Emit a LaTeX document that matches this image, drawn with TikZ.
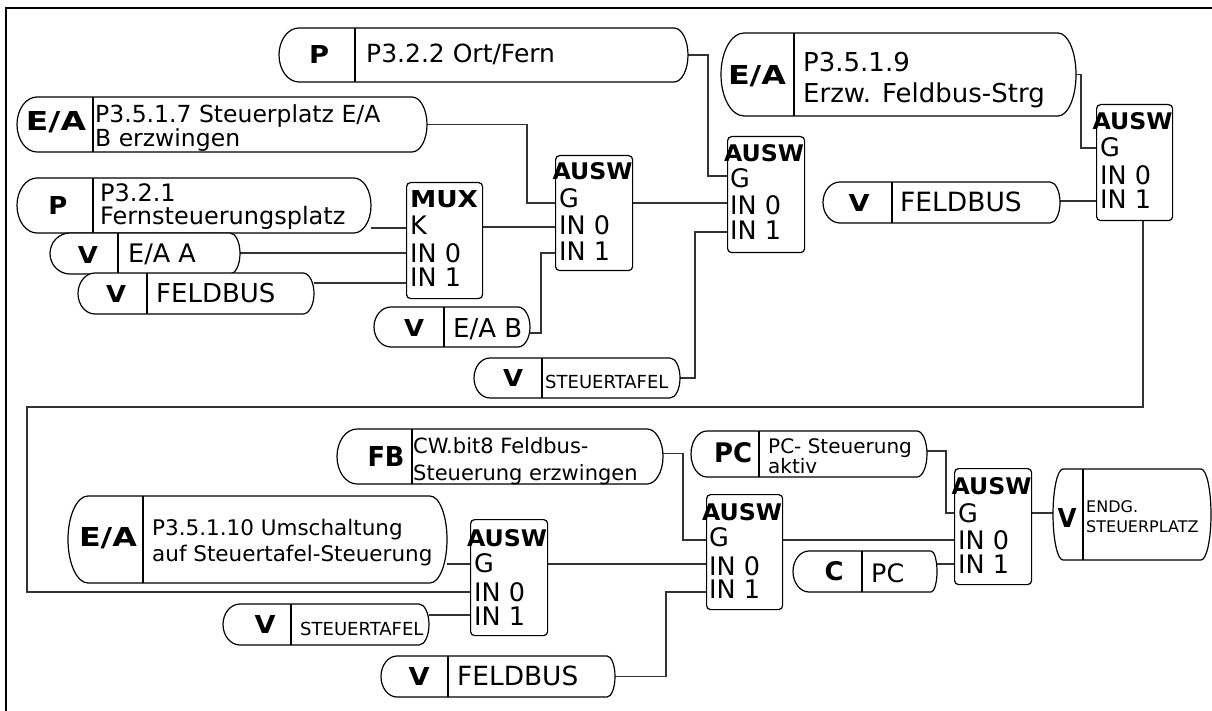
\documentclass[tikz,border=0pt]{standalone}
\usepackage{fontspec}
\setmainfont{DejaVu Sans}
\usepackage{graphicx}
\usetikzlibrary{backgrounds}
\newcommand\twol[3]{\vtop{\baselineskip=#1pt\lineskiplimit=-100pt\lineskip=0pt\hbox{#2}\hbox{#3}}}
\newcommand\bl[3]{\resizebox{#1pt}{#2pt}{\bfseries #3}}
\newcommand\fs[1]{\fontsize{#1}{#1}\selectfont}
\tikzset{
  outl/.style={draw=black, line width=1.2pt, fill=white},
  wire/.style={draw=black!80, line width=1.3pt},
  blockst/.style={draw=black, line width=1.2pt, fill=white, rounded corners=4pt, inner sep=0pt},
  txt/.style={inner sep=0pt, anchor=base west},
  lab/.style={inner sep=0pt, anchor=base},
  hold/.style={inner sep=0pt, outer sep=0pt, anchor=north west}
}
% pill: name, x0, y0, x1, y1, xsep, rl, rr
\newcommand\pill[8]{%
  \pgfmathsetmacro\pilYm{(#3+#5)/2}%
  \pgfmathsetmacro\pilKh{0.5523*(#5-#3)/2}%
  \pgfmathsetmacro\pilAl{#2+#7}%
  \pgfmathsetmacro\pilAr{#4-#8}%
  \pgfmathsetmacro\pilKl{0.5523*#7}%
  \pgfmathsetmacro\pilKr{0.5523*#8}%
  \path[outl] (\pilAl,#3) -- (\pilAr,#3)
    .. controls (\pilAr+\pilKr,#3) and (#4,\pilYm-\pilKh) .. (#4,\pilYm)
    .. controls (#4,\pilYm+\pilKh) and (\pilAr+\pilKr,#5) .. (\pilAr,#5)
    -- (\pilAl,#5)
    .. controls (\pilAl-\pilKl,#5) and (#2,\pilYm+\pilKh) .. (#2,\pilYm)
    .. controls (#2,\pilYm-\pilKh) and (\pilAl-\pilKl,#3) .. cycle;
  \draw[line width=1.2pt] (#6,#3) -- (#6,#5);
  \node[hold, minimum width={#4-#2}, minimum height={#5-#3}] (#1) at (#2,#3) {};%
}
% block: name, x0, y0, x1, y1
\newcommand\blk[5]{%
  \node[blockst, anchor=north west, minimum width={#4-#2}, minimum height={#5-#3}] (#1) at (#2,#3) {};%
}
\begin{document}
\begin{tikzpicture}[x=1pt,y=-1pt]
\useasboundingbox (0,0) rectangle (1212,711);

% ---------- top section pills ----------
\pill{p322}{279}{28}{688}{82}{355}{20}{14}
\node[lab] at (319,64) {\bl{20}{18}{P}};
\node[txt] at (366,63) {\fs{25}P3.2.2 Ort/Fern};

\pill{p3517}{17}{97}{427}{152}{93}{20}{15}
\node[lab] at (56,131) {\bl{60}{19}{E/A}};
\node[txt] at (95,123) {\fs{23.5}\twol{24}{P3.5.1.7 Steuerplatz E/A}{B erzwingen}};

\pill{p321}{17}{178}{371}{233}{93}{20}{17}
\node[lab] at (58,215) {\bl{19}{18}{P}};
\node[txt] at (100,202) {\fs{24}\twol{23}{P3.2.1}{Fernsteuerungsplatz}};

\pill{eaa}{50}{233}{240}{274}{118}{20}{10}
\node[lab] at (88,263) {\bl{20}{17}{V}};
\node[txt] at (128,263) {\fs{25.5}E/A A};

\pill{fb1}{78}{273}{314}{314}{147}{17}{11}
\node[lab] at (116,302) {\bl{20}{17}{V}};
\node[txt] at (156,302) {\fs{26}FELDBUS};

\pill{eab}{374}{307}{530}{347}{444}{17}{12}
\node[lab] at (414,336) {\bl{20}{17}{V}};
\node[txt] at (453,337) {\fs{26}E/A B};

\pill{st1}{474}{358}{680}{398}{542}{16}{10}
\node[lab] at (513,386) {\bl{20}{17}{V}};
\node[txt] at (545,388) {\fs{18}STEUERTAFEL};

\pill{p3519}{721}{33}{1076}{116}{794}{23}{18}
\node[lab] at (757,85) {\bl{58}{19}{E/A}};
\node[txt] at (803,72) {\fs{26}\twol{31}{P3.5.1.9}{Erzw. Feldbus-Strg}};

\pill{fb2}{823}{182}{1060}{223}{892}{17}{10}
\node[lab] at (859,212) {\bl{21}{17}{V}};
\node[txt] at (900,212) {\fs{26.5}FELDBUS};

% ---------- top section blocks ----------
\blk{mux}{406}{182}{482}{298}
\node[lab] at (444,208) {\bl{68}{17}{MUX}};
\node[txt] at (410,235) {\fs{25.5}K};
\node[txt] at (410,262) {\fs{25.5}IN 0};
\node[txt] at (410,287) {\fs{25.5}IN 1};
\coordinate (muxK) at (406,228);
\coordinate (muxI0) at (406,253);
\coordinate (muxI1) at (406,283);
\coordinate (muxO) at (482,227);

\blk{a1}{555}{155}{632}{270}
\node[lab] at (592.5,180) {\bl{80}{17}{AUSW}};
\node[txt] at (559,208) {\fs{25.5}G};
\node[txt] at (559,235) {\fs{25.5}IN 0};
\node[txt] at (559,261) {\fs{25.5}IN 1};
\coordinate (a1G) at (555,203);
\coordinate (a1I0) at (555,227);
\coordinate (a1I1) at (555,253);
\coordinate (a1O) at (632,203);

\blk{a2}{727}{136}{804}{252}
\node[lab] at (764,162) {\bl{80}{17}{AUSW}};
\node[txt] at (730,188) {\fs{25.5}G};
\node[txt] at (730,215) {\fs{25.5}IN 0};
\node[txt] at (730,240) {\fs{25.5}IN 1};
\coordinate (a2G) at (727,176);
\coordinate (a2I0) at (727,203);
\coordinate (a2I1) at (727,232);

\blk{a3}{1096}{104}{1172}{220}
\node[lab] at (1132.5,130) {\bl{80}{17}{AUSW}};
\node[txt] at (1100,157) {\fs{25.5}G};
\node[txt] at (1100,185) {\fs{25.5}IN 0};
\node[txt] at (1100,209) {\fs{25.5}IN 1};
\coordinate (a3G) at (1096,148);
\coordinate (a3I1) at (1096,201);
\coordinate (a3O) at (1143,220);

% ---------- bottom section pills ----------
\pill{fbcw}{337}{429}{663}{484}{412}{20}{16}
\node[lab] at (386,466) {\bl{37}{20}{FB}};
\node[txt] at (413,453) {\fs{21}\twol{27}{CW.bit8 Feldbus-}{Steuerung erzwingen}};

\pill{pc}{691}{431}{927}{477}{759}{16}{10}
\node[lab] at (733,462) {\bl{38}{20}{PC}};
\node[txt] at (768,453) {\fs{20}\twol{20}{PC- Steuerung}{aktiv}};

\pill{ea10}{68}{496}{447}{583}{143}{20}{17}
\node[lab] at (108,546) {\bl{58}{19}{E/A}};
\node[txt] at (152,535) {\fs{21.5}\twol{26}{P3.5.1.10 Umschaltung}{auf Steuertafel-Steuerung}};

\pill{st2}{223}{604}{429}{645}{291}{17}{10}
\node[lab] at (265,633) {\bl{21}{18}{V}};
\node[txt] at (300,635) {\fs{18}STEUERTAFEL};

\pill{fb3}{381}{656}{615}{697}{448}{16}{8}
\node[lab] at (419,685) {\bl{21}{18}{V}};
\node[txt] at (457,685) {\fs{26.4}FELDBUS};

\pill{cpc}{793}{551}{937}{592}{862}{16}{6}
\node[lab] at (834,580) {\bl{19}{19}{C}};
\node[txt] at (871,582) {\fs{25.4}PC};

\pill{endg}{1053}{469}{1211}{560}{1083}{10}{10}
\node[lab] at (1067,527) {\bl{19}{19}{V}};
\node[txt] at (1086,512) {\fs{16}\twol{20}{ENDG.}{STEUERPLATZ}};

% ---------- bottom section blocks ----------
\blk{a4}{470}{519}{547}{635}
\node[lab] at (507,546) {\bl{80}{17}{AUSW}};
\node[txt] at (474,572) {\fs{25.5}G};
\node[txt] at (474,601) {\fs{25.5}IN 0};
\node[txt] at (474,625) {\fs{25.5}IN 1};
\coordinate (a4G) at (470,564);
\coordinate (a4I0) at (470,592);
\coordinate (a4I1) at (470,615);
\coordinate (a4O) at (547,564);

\blk{a5}{706}{494}{782}{609}
\node[lab] at (742,520) {\bl{80}{17}{AUSW}};
\node[txt] at (709,546) {\fs{25.5}G};
\node[txt] at (709,575) {\fs{25.5}IN 0};
\node[txt] at (709,598) {\fs{25.5}IN 1};
\coordinate (a5G) at (706,540);
\coordinate (a5I0) at (706,564);
\coordinate (a5I1) at (706,592);
\coordinate (a5O) at (782,540);

\blk{a6}{954}{468}{1031}{584}
\node[lab] at (991.5,494) {\bl{80}{17}{AUSW}};
\node[txt] at (958,522) {\fs{25.5}G};
\node[txt] at (958,549) {\fs{25.5}IN 0};
\node[txt] at (958,573) {\fs{25.5}IN 1};
\coordinate (a6G) at (954,513);
\coordinate (a6I0) at (954,540);
\coordinate (a6I1) at (954,564);
\coordinate (a6O) at (1031,513);

\coordinate (loopL) at (27,407);

% ---------- connectors ----------
\begin{pgfonlayer}{background}
\draw[line width=1.3pt] (6,711) -- (6,8) -- (1212,8);
\draw[wire] (p322.east) -- ++(20,0) |- (a2G);
\draw[wire] (p3517.east) -- ++(100,0) |- (a1G);
\draw[wire] (p321.east |- muxK) -- (muxK);
\draw[wire] (eaa.east |- muxI0) -- (muxI0);
\draw[wire] (fb1.east |- muxI1) -- (muxI1);
\draw[wire] (muxO) -- (a1I0);
\draw[wire] ([yshift=-6pt]eab.east) -- ++(11,0) |- (a1I1);
\draw[wire] (st1.east) -- ++(15,0) |- (a2I1);
\draw[wire] (a1O) -- (a2I0);
\draw[wire] (p3519.east) -- ++(5,0) |- (a3G);
\draw[wire] (fb2.east |- a3I1) -- (a3I1);
\draw[wire] (a3O) |- (loopL) |- (a4I0);
\draw[wire] (ea10.east |- a4G) -- (a4G);
\draw[wire] (st2.east |- a4I1) -- (a4I1);
\draw[wire] (a4O) -- (a5I0);
\draw[wire] ([yshift=3pt]fbcw.east) -- ++(20,0) |- (a5G);
\draw[wire] (fb3.east) -- ++(51,0) |- (a5I1);
\draw[wire] (a5O) -- (a6I0);
\draw[wire] ([yshift=3pt]pc.east) -- ++(19,0) |- (a6G);
\draw[wire] (cpc.east |- a6I1) -- (a6I1);
\draw[wire] (a6O) -- (endg.west |- a6O);
\end{pgfonlayer}
\end{tikzpicture}
\end{document}
